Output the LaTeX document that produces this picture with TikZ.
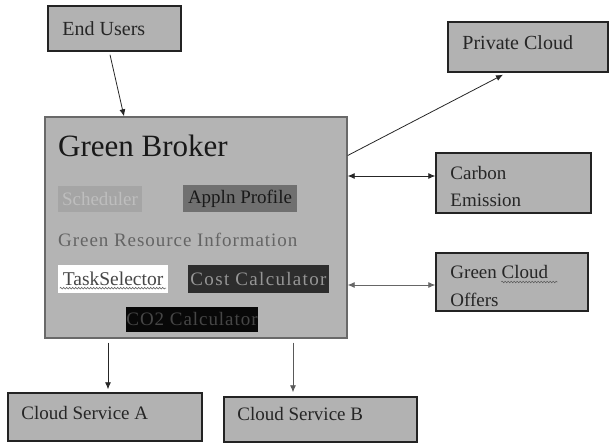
\documentclass[tikz,border=0pt]{standalone}
\usepackage{fontspec}
\setmainfont{Liberation Serif}
\newfontfamily\spacedA[LetterSpace=5]{Liberation Serif}
\newfontfamily\spacedB[LetterSpace=7]{Liberation Serif}
\usetikzlibrary{arrows.meta,calc,decorations.pathmorphing}
\definecolor{boxfill}{RGB}{178,178,178}
\definecolor{mainfill}{RGB}{180,180,180}
\definecolor{mainedge}{RGB}{105,105,105}
\definecolor{edgedark}{RGB}{35,35,35}
\definecolor{schedfill}{RGB}{165,165,165}
\definecolor{schedtext}{RGB}{190,190,190}
\definecolor{applfill}{RGB}{112,112,112}
\definecolor{appltext}{RGB}{25,25,25}
\definecolor{grtext}{RGB}{100,100,100}
\definecolor{tasktext}{RGB}{70,70,70}
\definecolor{costfill}{RGB}{45,45,45}
\definecolor{costtext}{RGB}{150,150,150}
\definecolor{cofill}{RGB}{8,8,8}
\definecolor{cotext}{RGB}{70,70,70}
\definecolor{wavy}{RGB}{95,95,95}
\tikzset{
  outerbox/.style={draw=edgedark, line width=1.5pt, fill=boxfill, inner sep=0pt},
  boxtext/.style={anchor=west, inner sep=0pt, align=left, font=\fontsize{19}{27.5}\selectfont, text=black!85},
  inbox/.style={inner sep=0pt, font=\fontsize{19}{23}\selectfont},
  conn/.style={draw=black!85, line width=0.8pt, -{Latex[length=7pt,width=6pt]}},
  dconn/.style={draw=black!85, line width=0.8pt, {Latex[length=7pt,width=6pt]}-{Latex[length=7pt,width=6pt]}},
  squiggle/.style={draw=wavy, line width=0.6pt, decorate, decoration={snake, segment length=3pt, amplitude=0.8pt}},
}
\begin{document}
\begin{tikzpicture}[x=1pt,y=-1pt]
\useasboundingbox (0,0) rectangle (610,443);
% main box
\node[draw=mainedge, line width=1.4pt, fill=mainfill, minimum width=302pt, minimum height=221pt, inner sep=0pt] (gb) at (196,227.5) {};
% outer boxes
\node[outerbox, minimum width=133pt, minimum height=45pt] (eu) at (114.5,28.5) {};
\node[boxtext, font=\fontsize{20}{24}\selectfont] (eut) at ([xshift=15pt]eu.west) {End Users};
\node[outerbox, minimum width=160pt, minimum height=50pt] (pc) at (528,47) {};
\node[boxtext, font=\fontsize{20}{24}\selectfont] (pct) at ([xshift=15pt,yshift=4pt]pc.west) {Private Cloud};
\node[outerbox, minimum width=155pt, minimum height=60pt] (ce) at (513.5,183) {};
\node[boxtext] (cet) at ([xshift=15pt,yshift=-3.5pt]ce.west) {Carbon\\Emission};
\node[outerbox, minimum width=152pt, minimum height=58pt] (gco) at (512,282) {};
\node[boxtext] (gcot) at ([xshift=15pt,yshift=-4pt]gco.west) {Green Cloud\\Offers};
\node[outerbox, minimum width=194pt, minimum height=48pt] (csa) at (105,417) {};
\node[boxtext] (csat) at ([xshift=14pt,yshift=4pt]csa.west) {Cloud Service A};
\node[outerbox, minimum width=193pt, minimum height=45pt] (csb) at (320.5,419.5) {};
\node[boxtext] (csbt) at ([xshift=14pt,yshift=5pt]csb.west) {Cloud Service B};
% inner content
\node[anchor=west, inner sep=0pt, font=\fontsize{31}{35}\selectfont, text=black!90] (title) at (58,146) {Green Broker};
\node[inbox, fill=schedfill, text=schedtext, minimum width=84pt, minimum height=26pt] (sch) at (100,199) {Scheduler};
\node[inbox, fill=applfill, text=appltext, minimum width=114pt, minimum height=27pt] (app) at (240,198.5) {Appln Profile};
\node[anchor=west, inner sep=0pt, font=\fontsize{19}{23}\spacedA, text=grtext] (gri) at (58,240) {Green Resource Information};
\node[inbox, fill=white, text=tasktext, minimum width=110pt, minimum height=28pt, font=\fontsize{19.5}{23}\selectfont] (task) at (113,279) {TaskSelector};
\node[inbox, fill=costfill, text=costtext, minimum width=141pt, minimum height=28pt, font=\fontsize{19}{23}\spacedB] (cost) at (258.5,279) {Cost Calculator};
\node[inbox, fill=cofill, text=cotext, minimum width=132pt, minimum height=25pt, font=\fontsize{19}{23}\spacedA] (co2) at (192,319.5) {CO2 Calculator};
% spelling squiggles
\path[squiggle] ([xshift=2pt,yshift=5pt]task.south west) -- ([xshift=-2pt,yshift=5pt]task.south east);
\path[squiggle] ([xshift=66pt,yshift=0pt]gco.west) -- ([xshift=122pt,yshift=0pt]gco.west);
% connectors
\draw[conn] ([xshift=-4.5pt,yshift=-3pt]eu.south) -- ([xshift=-72pt]gb.north);
\draw[conn] ([yshift=72pt]gb.east) -- ([xshift=-25pt,yshift=-2pt]pc.south);
\coordinate (c1) at ([yshift=7pt]ce.west);
\draw[dconn] (c1 -| gb.east) -- (c1);
\coordinate (c2) at ([yshift=-3pt]gco.west);
\draw[dconn, draw=black!60] (c2 -| gb.east) -- (c2);
\coordinate (d1) at ([xshift=3pt]csa.north);
\draw[conn, shorten <=4pt, shorten >=3pt] (d1 |- gb.south) -- (d1);
\coordinate (d2) at ([xshift=-27.5pt]csb.north);
\draw[conn, draw=black!65, shorten <=4pt, shorten >=4pt] (d2 |- gb.south) -- (d2);
\end{tikzpicture}
\end{document}
